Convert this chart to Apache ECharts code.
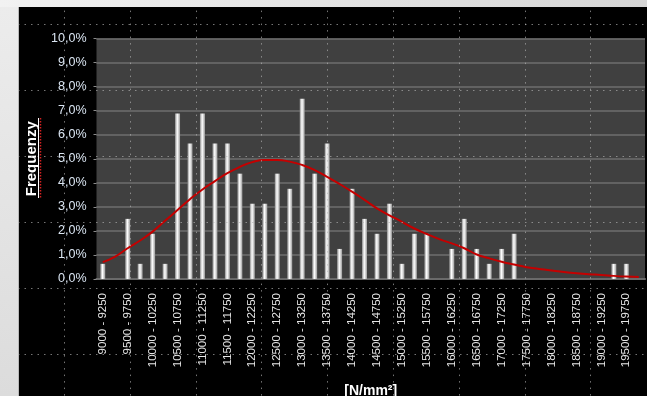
<!DOCTYPE html>
<html>
<head>
<meta charset="utf-8">
<script src="https://cdn.jsdelivr.net/npm/echarts@6/dist/echarts.min.js"></script>
<style>
  html, body { margin: 0; padding: 0; background: #000; }
  #chart { width: 647px; height: 396px; }
</style>
</head>
<body>
<div id="chart"></div>
<script>
// Tensile strength classes, 250 N/mm² wide
const binStart = 9000;
const binWidth = 250;
const binCount = 44;
const categories = [];
for (let i = 0; i < binCount; i++) {
  const lo = binStart + i * binWidth;
  categories.push(lo + ' - ' + (lo + binWidth));
}

// Relative frequency per class, in %
const frequency = [
  0.63, 0, 2.5, 0.63, 1.88, 0.63, 6.88, 5.63, 6.88, 5.63,
  5.63, 4.38, 3.13, 3.13, 4.38, 3.75, 7.5, 4.38, 5.63, 1.25,
  3.75, 2.5, 1.88, 3.13, 0.63, 1.88, 1.88, 0, 1.25, 2.5,
  1.25, 0.63, 1.25, 1.88, 0, 0, 0, 0, 0, 0,
  0, 0.63, 0.63, 0
];

// Fitted distribution curve, in %
const fitted = [
  0.70, 0.93, 1.28, 1.60, 1.97, 2.42, 2.87, 3.32, 3.72, 4.07,
  4.40, 4.66, 4.86, 4.95, 4.95, 4.88, 4.74, 4.53, 4.25, 3.95,
  3.63, 3.29, 2.94, 2.65, 2.38, 2.10, 1.87, 1.66, 1.48, 1.28,
  1.02, 0.86, 0.72, 0.60, 0.49, 0.42, 0.35, 0.29, 0.24, 0.20,
  0.17, 0.13, 0.10, 0.08
];

const yTicks = { min: 0, max: 10, step: 1 };

const chart = echarts.init(document.getElementById('chart'), null, { renderer: 'canvas' });

const barFill = new echarts.graphic.LinearGradient(0, 0, 1, 0, [
  { offset: 0, color: '#8c8c8c' },
  { offset: 0.45, color: '#ffffff' },
  { offset: 1, color: '#9c9c9c' }
]);

const dotStyle = { color: 'rgba(180,180,180,0.65)', width: 1, type: [1.5, 5] };

chart.setOption({
  backgroundColor: '#000000',
  animation: false,
  grid: [
    { left: 96.5, top: 38.5, right: 2, bottom: 117, show: true, backgroundColor: '#404040', borderWidth: 0,
      containLabel: false, outerBoundsMode: 'none' },
    // graph-paper overlay across the panel
    { left: -1.5, top: -41.4, width: 658, height: 461.3, show: false, outerBoundsMode: 'none' }
  ],
  xAxis: [
    {
      type: 'category', gridIndex: 0, data: categories, boundaryGap: true,
      name: '[N/mm²]', nameLocation: 'middle', nameGap: 105,
      nameTextStyle: { color: '#ffffff', fontFamily: 'Liberation Sans, Arial', fontWeight: 'bold', fontSize: 14 },
      axisLine: { show: true, lineStyle: { color: '#6a6a6a', width: 2 } },
      axisTick: { show: false },
      axisLabel: {
        interval: 1, rotate: 90, margin: 14,
        color: '#e6e6e6', fontFamily: 'Liberation Sans, Arial', fontSize: 11.5
      },
      splitLine: { show: false }
    },
    {
      type: 'value', gridIndex: 1, min: 0, max: 10, interval: 1, z: 10,
      axisLine: { show: false }, axisTick: { show: false }, axisLabel: { show: false },
      splitLine: { show: true, lineStyle: dotStyle }
    }
  ],
  yAxis: [
    {
      type: 'value', gridIndex: 0, min: yTicks.min, max: yTicks.max, interval: yTicks.step,
      name: 'Frequenzy', nameLocation: 'middle', nameGap: 57, nameRotate: 90,
      nameTextStyle: { color: '#ffffff', fontFamily: 'Liberation Sans, Arial', fontWeight: 'bold', fontSize: 15 },
      axisLine: { show: false },
      axisTick: { show: true, length: 3, lineStyle: { color: '#8a8a8a' } },
      axisLabel: {
        margin: 10, color: '#dae5f2', fontFamily: 'Liberation Sans, Arial', fontSize: 12.5,
        formatter: v => v.toFixed(1).replace('.', ',') + '%'
      },
      splitLine: { show: true, lineStyle: { color: '#6e6e6e', width: 1.5 } }
    },
    {
      type: 'value', gridIndex: 1, min: 0, max: 7, interval: 1, z: 10,
      axisLine: { show: false }, axisTick: { show: false }, axisLabel: { show: false },
      splitLine: { show: true, lineStyle: dotStyle }
    }
  ],
  graphic: [
    // light page margins around the dark panel
    { type: 'rect', z: 100, shape: { x: 0, y: 0, width: 647, height: 7 },
      style: { fill: new echarts.graphic.LinearGradient(0, 0, 1, 0, [
        { offset: 0, color: '#f2f2f2' }, { offset: 1, color: '#d6d6d6' }]) } },
    { type: 'rect', z: 100, shape: { x: 0, y: 7, width: 19, height: 389 },
      style: { fill: new echarts.graphic.LinearGradient(0, 0, 0, 1, [
        { offset: 0, color: '#ececec' }, { offset: 1, color: '#dcdcdc' }]) } },
    { type: 'line', z: 100, shape: { x1: 18.5, y1: 7, x2: 18.5, y2: 396 },
      style: { stroke: '#b8b8b8', lineWidth: 1 } },
    // underline and spell-check mark under the axis title
    { type: 'line', z: 100, shape: { x1: 38.5, y1: 118, x2: 38.5, y2: 198 },
      style: { stroke: '#ffffff', lineWidth: 1 } },
    { type: 'line', z: 100, shape: { x1: 40.5, y1: 118, x2: 40.5, y2: 198 },
      style: { stroke: '#d02020', lineWidth: 1.5, lineDash: [1.5, 1.5] } }
  ],
  series: [
    {
      type: 'bar', xAxisIndex: 0, yAxisIndex: 0, data: frequency,
      barWidth: 5, itemStyle: { color: barFill }, z: 2
    },
    {
      type: 'line', xAxisIndex: 0, yAxisIndex: 0, data: fitted,
      smooth: true, symbol: 'none', z: 3,
      lineStyle: { color: '#c40000', width: 2 }
    }
  ]
});
</script>
</body>
</html>
